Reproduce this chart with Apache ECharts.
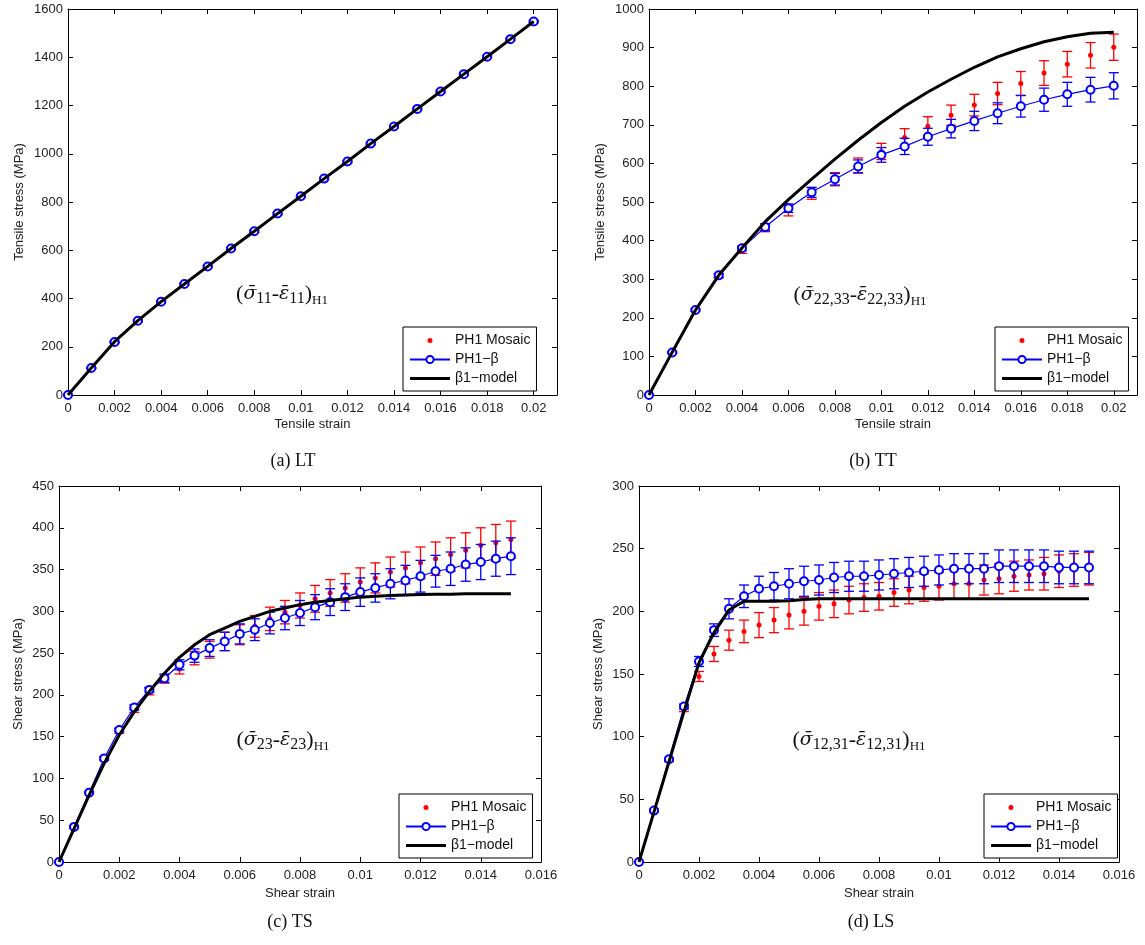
<!DOCTYPE html>
<html>
<head>
<meta charset="utf-8">
<title>PH1 stress-strain</title>
<script src="https://cdn.jsdelivr.net/npm/echarts@6/dist/echarts.min.js"></script>
<style>
  html, body { margin: 0; padding: 0; background: #fff; }
  #chart { width: 1145px; height: 945px; }
</style>
</head>
<body>
<div id="chart"></div>
<script>
// strains
const strainT = [0, 0.001, 0.002, 0.003, 0.004, 0.005, 0.006, 0.007, 0.008, 0.009, 0.01,
  0.011, 0.012, 0.013, 0.014, 0.015, 0.016, 0.017, 0.018, 0.019, 0.02];
const strainS = [0, 0.0005, 0.001, 0.0015, 0.002, 0.0025, 0.003, 0.0035, 0.004, 0.0045, 0.005,
  0.0055, 0.006, 0.0065, 0.007, 0.0075, 0.008, 0.0085, 0.009, 0.0095, 0.01,
  0.0105, 0.011, 0.0115, 0.012, 0.0125, 0.013, 0.0135, 0.014, 0.0145, 0.015];

// tick labels
const xTicksT = [0, 0.002, 0.004, 0.006, 0.008, 0.01, 0.012, 0.014, 0.016, 0.018, 0.02];
const xTicksS = [0, 0.002, 0.004, 0.006, 0.008, 0.01, 0.012, 0.014, 0.016];

// (a) LT
const ltMosaic = [0, 111, 219, 307, 386, 459, 532, 606, 678, 751, 823, 896, 967, 1041, 1112, 1185, 1257, 1329, 1401, 1474, 1547];
const ltMosaicErr = [0, 2, 3, 4, 4, 4, 4, 4, 4, 4, 4, 4, 4, 4, 4, 4, 4, 4, 4, 4, 4];
const ltBeta = [0, 112, 220, 308, 387, 460, 533, 607, 679, 752, 824, 897, 968, 1042, 1113, 1186, 1258, 1330, 1402, 1475, 1548];
const ltBetaErr = [0, 2, 3, 3, 4, 4, 4, 4, 4, 4, 4, 4, 4, 4, 4, 4, 4, 4, 4, 4, 4];
const ltModel = [0, 112, 221, 308, 387, 460, 533, 607, 679, 752, 824, 897, 968, 1042, 1113, 1186, 1258, 1330, 1402, 1475, 1548];

// (b) TT
const ttMosaic = [0, 110, 220, 308, 374, 432, 478, 522, 559, 595, 631, 667, 696, 725, 751, 781, 807, 834, 857, 880, 901];
const ttMosaicErr = [0, 2, 3, 5, 7, 9, 14, 15, 17, 19, 21, 23, 25, 26, 28, 29, 31, 32, 33, 33, 34];
const ttBeta = [0, 110, 220, 310, 380, 435, 484, 525, 559, 592, 622, 644, 669, 690, 710, 730, 748, 765, 779, 791, 801];
const ttBetaErr = [0, 2, 3, 5, 6, 9, 11, 13, 15, 17, 19, 21, 22, 24, 25, 27, 28, 30, 31, 32, 34];
const ttModel = [0, 111, 220, 310, 381, 449, 506, 559, 611, 660, 706, 748, 785, 818, 849, 876, 897, 915, 928, 937, 940];

// (c) TS
const tsMosaic = [0, 42, 83, 124, 157, 182, 204, 219, 231, 244, 254, 264, 272, 282, 291, 299, 307, 315, 322, 328,
  335, 340, 347, 352, 358, 363, 368, 373, 379, 382, 386];
const tsMosaicErr = [0, 1, 1, 2, 3, 3, 4, 5, 6, 8, 10, 11, 12, 13, 14, 14, 15, 16, 16, 17,
  17, 18, 18, 19, 19, 20, 20, 21, 21, 22, 22];
const tsBeta = [0, 42, 83, 124, 158, 185, 206, 220, 236, 247, 256, 264, 273, 278, 286, 292, 298, 305, 311, 317,
  323, 328, 333, 337, 342, 348, 351, 356, 359, 363, 366];
const tsBetaErr = [0, 1, 1, 2, 2, 3, 3, 5, 6, 8, 10, 11, 12, 13, 13, 14, 15, 15, 16, 16,
  17, 17, 18, 18, 19, 19, 20, 20, 21, 21, 22];
const tsModel = [0, 40, 80, 118, 152, 180, 204, 226, 245, 260, 272, 280, 288, 294, 300, 304, 308, 311, 313, 315,
  317, 318, 319, 319.5, 320, 320.5, 320.5, 321, 321, 321, 321];

// (d) LS
const lsMosaic = [0, 41, 81, 122, 148, 166, 177, 184, 189, 193, 197, 200, 204, 206, 209, 211, 212, 215, 217, 219,
  220, 222, 222, 225, 226, 228, 229, 230, 232, 233, 234];
const lsMosaicErr = [0, 1, 1, 2, 4, 6, 8, 9, 10, 10, 11, 11, 11, 11, 11, 11, 11, 11, 11, 11,
  11, 12, 12, 12, 12, 12, 12, 13, 13, 13, 13];
const lsBeta = [0, 41, 82, 124, 160, 185, 202, 212, 218, 220, 222, 224, 225, 227, 228, 228, 229, 230, 231, 232,
  233, 234, 234, 234, 236, 236, 236, 236, 235, 235, 235];
const lsBetaErr = [0, 1, 1, 2, 4, 5, 8, 9, 10, 11, 12, 12, 12, 12, 12, 12, 12, 12, 12, 12,
  12, 12, 12, 12, 13, 13, 13, 13, 13, 13, 13];
const lsModel = [0, 40, 80, 120, 159, 183, 201, 208, 208, 208, 208.5, 209.5, 210, 210, 210, 210, 210, 210, 210, 210,
  210, 210, 210, 210, 210, 210, 210, 210, 210, 210, 210];

const SANS = '"Liberation Sans", Arial, sans-serif';
const SERIF = '"Liberation Serif", "DejaVu Serif", serif';
const MATH = '"DejaVu Serif", serif';
const RED = '#ff0000';
const BLUE = '#0000ff';
const NAMES = ['PH1 Mosaic', 'PH1\u2212\u03b2', '\u03b21\u2212model'];

const panels = [
  { strain: strainT, mosaic: ltMosaic, mosaicErr: ltMosaicErr, beta: ltBeta, betaErr: ltBetaErr, model: ltModel,
    grid: { left: 68, top: 9, width: 489, height: 386 }, xMax: 0.021, xTicks: xTicksT, yMax: 1600, yStep: 200,
    xName: 'Tensile strain', yName: 'Tensile stress (MPa)', yGap: 42, legend: { left: 403, top: 327 },
    sub: '11', label: [282, 294], caption: '(a) LT', capPos: [293, 461] },
  { strain: strainT, mosaic: ttMosaic, mosaicErr: ttMosaicErr, beta: ttBeta, betaErr: ttBetaErr, model: ttModel,
    grid: { left: 649, top: 9, width: 488, height: 386 }, xMax: 0.021, xTicks: xTicksT, yMax: 1000, yStep: 100,
    xName: 'Tensile strain', yName: 'Tensile stress (MPa)', yGap: 42, legend: { left: 995, top: 327 },
    sub: '22,33', label: [860, 295], caption: '(b) TT', capPos: [873, 461] },
  { strain: strainS, mosaic: tsMosaic, mosaicErr: tsMosaicErr, beta: tsBeta, betaErr: tsBetaErr, model: tsModel,
    grid: { left: 59, top: 486, width: 482, height: 376 }, xMax: 0.016, xTicks: xTicksS, yMax: 450, yStep: 50,
    xName: 'Shear strain', yName: 'Shear stress (MPa)', yGap: 34, legend: { left: 399, top: 794 },
    sub: '23', label: [283, 740], caption: '(c) TS', capPos: [290, 922] },
  { strain: strainS, mosaic: lsMosaic, mosaicErr: lsMosaicErr, beta: lsBeta, betaErr: lsBetaErr, model: lsModel,
    grid: { left: 639, top: 486, width: 480, height: 376 }, xMax: 0.016, xTicks: xTicksS, yMax: 300, yStep: 50,
    xName: 'Shear strain', yName: 'Shear stress (MPa)', yGap: 34, legend: { left: 984, top: 794 },
    sub: '12,31', label: [859, 740], caption: '(d) LS', capPos: [871, 922] }
];

function errRender(color) {
  return function (params, api) {
    var x = api.value(0);
    var top = api.coord([x, api.value(2)]);
    var bot = api.coord([x, api.value(1)]);
    var hw = 5;
    var style = { stroke: color, lineWidth: 1.3 };
    return {
      type: 'group',
      children: [
        { type: 'line', shape: { x1: top[0], y1: top[1], x2: bot[0], y2: bot[1] }, style: style },
        { type: 'line', shape: { x1: top[0] - hw, y1: top[1], x2: top[0] + hw, y2: top[1] }, style: style },
        { type: 'line', shape: { x1: bot[0] - hw, y1: bot[1], x2: bot[0] + hw, y2: bot[1] }, style: style }
      ]
    };
  };
}

// legend icons: small dot and thick bar, both padded to the full 40x9 box
var dotIcon = 'path://M0,0L0,0M40,9L40,9M17.5,4.5A2.5,2.5,0,1,1,22.5,4.5A2.5,2.5,0,1,1,17.5,4.5Z';
var barIcon = 'path://M0,0L0,0M40,9L40,9M0,3L40,3L40,6L0,6Z';

var grids = [], xAxes = [], yAxes = [], series = [], legends = [], graphics = [];
var axisLine = { show: true, onZero: false, lineStyle: { color: '#000', width: 1 } };
var tickStyle = { inside: true, length: 5, lineStyle: { color: '#000', width: 1 } };

panels.forEach(function (p, i) {
  grids.push(Object.assign({ show: false, containLabel: false, outerBoundsMode: 'none' }, p.grid));

  xAxes[i] = {
    type: 'value', gridIndex: i, position: 'bottom', min: 0, max: p.xMax,
    axisLine: axisLine, splitLine: { show: false },
    axisTick: Object.assign({ customValues: p.xTicks }, tickStyle),
    axisLabel: { customValues: p.xTicks, color: '#222', fontSize: 13, fontFamily: SANS, margin: 7,
      formatter: function (v) { return String(+v.toFixed(4)); } },
    name: p.xName, nameLocation: 'middle', nameGap: i < 2 ? 23 : 25,
    nameTextStyle: { color: '#222', fontSize: 13, fontFamily: SANS }
  };
  xAxes[i + 4] = {
    type: 'value', gridIndex: i, position: 'top', min: 0, max: p.xMax,
    axisLine: axisLine, splitLine: { show: false },
    axisTick: Object.assign({ customValues: p.xTicks }, tickStyle),
    axisLabel: { show: false }
  };
  yAxes[i] = {
    type: 'value', gridIndex: i, position: 'left', min: 0, max: p.yMax, interval: p.yStep,
    axisLine: axisLine, splitLine: { show: false }, axisTick: tickStyle,
    axisLabel: { color: '#222', fontSize: 13, fontFamily: SANS, margin: 5,
      formatter: function (v) { return String(v); } },
    name: p.yName, nameLocation: 'middle', nameGap: p.yGap,
    nameTextStyle: { color: '#222', fontSize: 13, fontFamily: SANS }
  };
  yAxes[i + 4] = {
    type: 'value', gridIndex: i, position: 'right', min: 0, max: p.yMax, interval: p.yStep,
    axisLine: axisLine, splitLine: { show: false }, axisTick: tickStyle,
    axisLabel: { show: false }
  };

  var pairs = function (arr) { return p.strain.map(function (s, k) { return [s, arr[k]]; }); };
  var bars = function (arr, err) {
    return p.strain.map(function (s, k) { return [s, arr[k] - err[k], arr[k] + err[k]]; });
  };

  series.push({
    type: 'custom', name: 'mosaicErr' + i, xAxisIndex: i, yAxisIndex: i, silent: true,
    renderItem: errRender(RED), encode: { x: 0, y: [1, 2] }, data: bars(p.mosaic, p.mosaicErr), z: 2
  });
  series.push({
    type: 'line', name: NAMES[0], xAxisIndex: i, yAxisIndex: i, data: pairs(p.mosaic),
    symbol: 'circle', symbolSize: 5, itemStyle: { color: RED },
    lineStyle: { width: 0, opacity: 0 }, animation: false, z: 3
  });
  series.push({
    type: 'custom', name: 'betaErr' + i, xAxisIndex: i, yAxisIndex: i, silent: true,
    renderItem: errRender(BLUE), encode: { x: 0, y: [1, 2] }, data: bars(p.beta, p.betaErr), z: 4
  });
  series.push({
    type: 'line', name: NAMES[1], xAxisIndex: i, yAxisIndex: i, data: pairs(p.beta),
    symbol: 'emptyCircle', symbolSize: 8, showAllSymbol: true,
    itemStyle: { color: BLUE, borderColor: BLUE, borderWidth: 1 },
    lineStyle: { color: BLUE, width: 1.2 }, animation: false, z: 5
  });
  series.push({
    type: 'line', name: NAMES[2], xAxisIndex: i, yAxisIndex: i, data: pairs(p.model),
    symbol: 'none', itemStyle: { color: '#000' },
    lineStyle: { color: '#000', width: 3 }, animation: false, z: 6
  });

  legends.push({
    data: [
      { name: NAMES[0], icon: dotIcon },
      { name: NAMES[1] },
      { name: NAMES[2], icon: barIcon }
    ],
    orient: 'vertical', left: p.legend.left, top: p.legend.top,
    backgroundColor: '#fff', borderColor: '#000', borderWidth: 1, borderRadius: 0,
    padding: [6, 6, 5, 6], itemGap: 4, itemWidth: 40, itemHeight: 9, selectedMode: false,
    symbolKeepAspect: true,
    textStyle: { color: '#111', fontSize: 14, lineHeight: 15, fontFamily: SANS }
  });

  graphics.push({
    type: 'text', x: p.label[0], y: p.label[1],
    style: {
      text: '{p|(}{s|\u03c3\u0304}{b|' + p.sub + '}{p|-}{s|\u03b5\u0304}{b|' + p.sub + '}{p|)}{h|H1}',
      align: 'center', verticalAlign: 'middle',
      rich: {
        p: { fontFamily: SERIF, fontSize: 22, lineHeight: 26, fill: '#111' },
        s: { fontFamily: MATH, fontSize: 19, fontStyle: 'italic', lineHeight: 26, fill: '#111' },
        b: { fontFamily: SERIF, fontSize: 16, lineHeight: 16, verticalAlign: 'bottom', fill: '#111' },
        h: { fontFamily: SERIF, fontSize: 13, lineHeight: 15, verticalAlign: 'bottom', fill: '#111' }
      }
    }
  });
  graphics.push({
    type: 'text', x: p.capPos[0], y: p.capPos[1],
    style: { text: p.caption, fontFamily: SERIF, fontSize: 18, fill: '#111', align: 'center', verticalAlign: 'middle' }
  });
});

var chart = echarts.init(document.getElementById('chart'), null, { renderer: 'canvas' });
chart.setOption({
  animation: false,
  backgroundColor: '#fff',
  grid: grids,
  xAxis: xAxes,
  yAxis: yAxes,
  legend: legends,
  series: series,
  graphic: graphics
});
</script>
</body>
</html>
